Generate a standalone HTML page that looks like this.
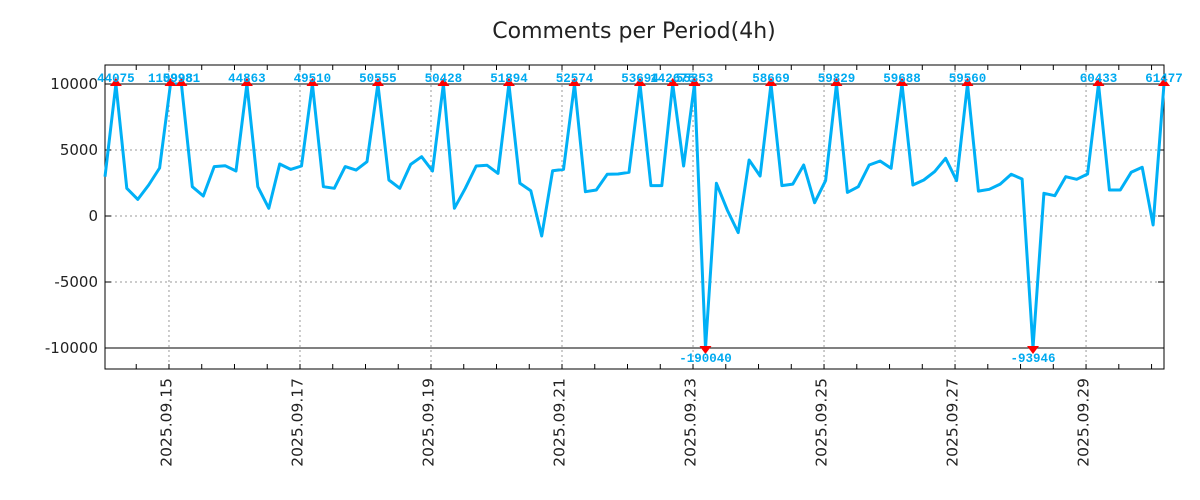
<!DOCTYPE html>
<html><head><meta charset="utf-8"><style>
html,body{margin:0;padding:0;background:#fff;}
svg{display:block;}
</style></head><body>
<svg id="chart" width="1200" height="500" xmlns="http://www.w3.org/2000/svg">
<text x="634" y="38" text-anchor="middle" font-family="DejaVu Sans, Liberation Sans, sans-serif" font-size="22" fill="#222">Comments per Period(4h)</text>
<g id="grid"></g>
<g id="axes"></g>
<g id="series"></g>
<g id="marks"></g>
</svg>
<script>
const values = [2980,44075,2100,1260,2350,3640,110998,59981,2220,1515,3740,3810,3410,44863,2220,580,3940,3530,3790,49510,2220,2100,3740,3480,4110,50555,2730,2100,3910,4490,3410,50428,580,2100,3790,3840,3230,51894,2480,1920,-1515,3430,3530,52574,1840,1970,3160,3180,3310,53694,2300,2300,142675,3790,55353,-190040,2480,450,-1260,4240,3030,58669,2300,2420,3860,1010,2680,59829,1790,2220,3860,4170,3610,59688,2350,2730,3360,4370,2680,59560,1890,2020,2420,3160,2800,-93946,1720,1540,2980,2780,3180,60433,1970,1970,3310,3690,-680,61477];
const yTicks = [10000,5000,0,-5000,-10000];
const yTickLabels = ["10000","5000","0","-5000","-10000"];
const dateLabels = ["2025.09.15","2025.09.17","2025.09.19","2025.09.21","2025.09.23","2025.09.25","2025.09.27","2025.09.29"];
const firstOffset = 5.86; // periods from first point to 09.15 00:00
const clipMax = 10000, clipMin = -10000;

const L=105,R=1164,T=65,B=369;
const NS="http://www.w3.org/2000/svg";
function xs(i){return L+i*(R-L)/(values.length-1);}
function ys(v){return 216 - v*66/5000;}
function mk(tag,attrs,parent){const e=document.createElementNS(NS,tag);for(const k in attrs)e.setAttribute(k,attrs[k]);parent.appendChild(e);return e;}
const grid=document.getElementById('grid'),axes=document.getElementById('axes'),series=document.getElementById('series'),marks=document.getElementById('marks');

yTicks.forEach((v,k)=>{
  const y=ys(v);
  const solid=(v===clipMax||v===clipMin);
  const g=mk('line',{x1:L,x2:R,y1:y,y2:y,stroke:solid?'#000':'#999','stroke-width':1,'stroke-dasharray':solid?'none':'2,3'},grid);
  
  
  mk('line',{x1:L,x2:L+6,y1:y,y2:y,stroke:'#000'},axes);
  mk('line',{x1:R-6,x2:R,y1:y,y2:y,stroke:'#000'},axes);
  const t=mk('text',{x:L-7,y:y+5,'text-anchor':'end','font-family':'DejaVu Sans, Liberation Sans, sans-serif','font-size':15,fill:'#222'},axes);
  t.textContent=yTickLabels[k];
  
  
});
const per=(R-L)/(values.length-1);
for(let h=-2;h<40;h++){
  const x=L+(firstOffset+h*3)*per;
  if(x<L||x>R)continue;
  mk('line',{x1:x,x2:x,y1:B,y2:B-5,stroke:'#000'},axes);
  mk('line',{x1:x,x2:x,y1:T,y2:T+5,stroke:'#000'},axes);
}
dateLabels.forEach((d,k)=>{
  const x=L+(firstOffset+k*12)*per;
  const g=mk('line',{x1:x,x2:x,y1:T,y2:B,stroke:'#999','stroke-dasharray':'2,3'},grid);
  
  
  const t=mk('text',{x:0,y:0,transform:`translate(${x+2.5},378) rotate(-90)`,'text-anchor':'end','font-family':'DejaVu Sans, Liberation Sans, sans-serif','font-size':15.5,fill:'#222'},axes);
  t.textContent=d;
  
  
});
const fr=mk('rect',{x:L,y:T,width:R-L,height:B-T,fill:'none',stroke:'#000','stroke-width':1},axes);



const pts=values.map((v,i)=>xs(i).toFixed(1)+','+ys(Math.max(clipMin,Math.min(clipMax,v))).toFixed(1)).join(' ');
const pl=mk('polyline',{points:pts,fill:'none',stroke:'#00b0f6','stroke-width':3,'stroke-linejoin':'round'},series);



values.forEach((v,i)=>{
  if(v<=clipMax&&v>=clipMin)return;
  const x=xs(i);
  if(v>clipMax){
    const y=ys(clipMax);
    const p=mk('polygon',{points:`${x-6},${y+2} ${x+6},${y+2} ${x},${y-6}`,fill:'#f00'},marks);
    
    
    const t=mk('text',{x:x,y:y-2,'text-anchor':'middle','font-family':'Liberation Mono, DejaVu Sans Mono, monospace','font-weight':'bold','font-size':12.5,fill:'#00aaf0'},marks);
    t.textContent=String(v);
    
    
  } else {
    const y=ys(clipMin);
    const p=mk('polygon',{points:`${x-6},${y-2} ${x+6},${y-2} ${x},${y+6}`,fill:'#f00'},marks);
    
    
    const t=mk('text',{x:x,y:y+14,'text-anchor':'middle','font-family':'Liberation Mono, DejaVu Sans Mono, monospace','font-weight':'bold','font-size':12.5,fill:'#00aaf0'},marks);
    t.textContent=String(v);
    
    
  }
});
</script>
</body></html>
